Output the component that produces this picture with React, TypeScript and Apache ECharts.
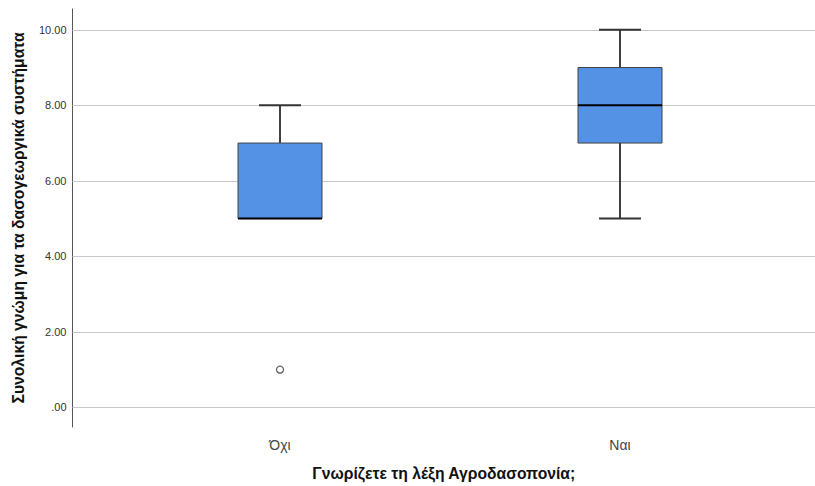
import React, { useEffect, useRef } from 'react';
import * as echarts from 'echarts';

const categories = ['Όχι', 'Ναι'];
const whiskerLow = [5, 5];
const q1 = [5, 7];
const median = [5, 8];
const q3 = [7, 9];
const whiskerHigh = [8, 10];
const outliers = [[1, 1]]; // [category position, value]
const yTicks = [0, 2, 4, 6, 8, 10];
const xTitle = 'Γνωρίζετε τη λέξη Αγροδασοπονία;';
const yTitle = 'Συνολική γνώμη για τα δασογεωργικά συστήματα';

const BOX_W = 84;
const CAP_W = 42;
const FONT = 'Liberation Sans, Arial, sans-serif';

export default function App() {
  const ref = useRef<HTMLDivElement>(null);
  useEffect(() => {
    if (!ref.current) return;
    const chart = echarts.init(ref.current, undefined, { renderer: 'svg' });
    const boxData = categories.map((_, i) => [i + 1, whiskerLow[i], q1[i], median[i], q3[i], whiskerHigh[i]]);
    chart.setOption({
      animation: false,
      textStyle: { fontFamily: FONT },
      grid: { left: 72.5, right: 0, top: 9, bottom: 57.5 },
      xAxis: {
        type: 'value',
        min: 0.3897,
        max: 2.5735,
        name: xTitle,
        nameLocation: 'middle',
        nameGap: 38,
        nameTextStyle: { fontSize: 15.7, fontWeight: 'bold', color: '#111', fontFamily: FONT },
        axisLine: { show: true, lineStyle: { color: '#555', width: 1 } },
        axisTick: { show: false },
        splitLine: { show: false },
        axisLabel: {
          customValues: [1, 2],
          formatter: (v: number) => categories[Math.round(v) - 1] ?? '',
          fontSize: 14,
          color: '#444',
          margin: 11,
        },
      },
      yAxis: {
        type: 'value',
        min: -0.52,
        max: 10.55,
        name: yTitle,
        nameLocation: 'middle',
        nameGap: 46,
        nameTextStyle: { fontSize: 15.7, fontWeight: 'bold', color: '#111', fontFamily: FONT },
        axisLine: { show: true, lineStyle: { color: '#555', width: 1 } },
        axisTick: { show: false },
        splitLine: { show: false },
        axisLabel: {
          customValues: yTicks,
          formatter: (v: number) => (v === 0 ? '.00' : v.toFixed(2)),
          fontSize: 11,
          color: '#333',
          margin: 6,
        },
      },
      series: [
        {
          type: 'scatter',
          z: 5,
          data: outliers,
          symbol: 'circle',
          symbolSize: 7,
          itemStyle: { color: '#fff', borderColor: '#333', borderWidth: 1.2 },
          markLine: {
            silent: true,
            symbol: 'none',
            z: 1,
            label: { show: false },
            lineStyle: { color: '#c8c8c8', width: 1, type: 'solid' },
            data: yTicks.map((t) => ({ yAxis: t })),
          },
        },
        {
          type: 'custom',
          z: 3,
          data: boxData,
          encode: { x: 0, y: [1, 2, 3, 4, 5] },
          renderItem: (params: any, api: any) => {
            const x = api.value(0);
            const lo = api.coord([x, api.value(1)]);
            const b1 = api.coord([x, api.value(2)]);
            const md = api.coord([x, api.value(3)]);
            const b3 = api.coord([x, api.value(4)]);
            const hi = api.coord([x, api.value(5)]);
            const cx = lo[0];
            const children: any[] = [];
            const whiskerStyle = { stroke: '#000', lineWidth: 1.5 };
            const capStyle = { stroke: '#333', lineWidth: 2 };
            if (hi[1] < b3[1]) {
              children.push({ type: 'line', shape: { x1: cx, y1: hi[1], x2: cx, y2: b3[1] }, style: whiskerStyle });
              children.push({ type: 'line', shape: { x1: cx - CAP_W / 2, y1: hi[1], x2: cx + CAP_W / 2, y2: hi[1] }, style: capStyle });
            }
            if (lo[1] > b1[1]) {
              children.push({ type: 'line', shape: { x1: cx, y1: b1[1], x2: cx, y2: lo[1] }, style: whiskerStyle });
              children.push({ type: 'line', shape: { x1: cx - CAP_W / 2, y1: lo[1], x2: cx + CAP_W / 2, y2: lo[1] }, style: capStyle });
            }
            children.push({
              type: 'rect',
              shape: { x: cx - BOX_W / 2, y: b3[1], width: BOX_W, height: b1[1] - b3[1] },
              style: { fill: '#5392e4', stroke: '#444', lineWidth: 1 },
            });
            children.push({
              type: 'line',
              shape: { x1: cx - BOX_W / 2, y1: md[1], x2: cx + BOX_W / 2, y2: md[1] },
              style: { stroke: '#000', lineWidth: 2 },
            });
            return { type: 'group', children };
          },
        },
      ],
    });
    return () => chart.dispose();
  }, []);
  return (
    <div
      ref={ref}
      style={{ position: 'fixed', left: 0, top: 0, width: 815, height: 486, background: '#fff' }}
    />
  );
}
